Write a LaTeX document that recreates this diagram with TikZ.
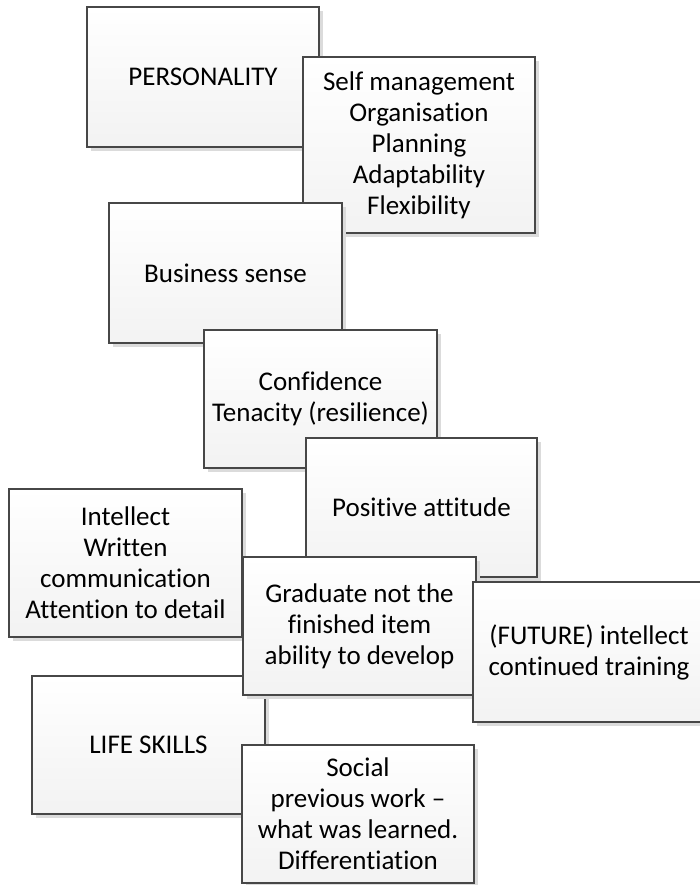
\documentclass[tikz,border=0pt]{standalone}
\usepackage{fontspec}
\setmainfont[Ligatures=NoCommon]{Carlito}
\usetikzlibrary{shadows}
\tikzset{
  boxnode/.style={rectangle, draw=black!72, line width=1.1pt,
    top color=white, bottom color=black!5,
    align=center, inner sep=1pt,
    font=\fontsize{27}{31}\selectfont,
    general shadow={fill=black!14, shadow xshift=4pt, shadow yshift=-4pt}},
}
\newcommand{\bx}[6]{%
  \node[boxnode, minimum width={#4-#2}, minimum height={#5-#3}]
    (#1) at ({(#2+#4)/2},{(#3+#5)/2}) {#6};}
\begin{document}
\begin{tikzpicture}[x=1pt,y=-1pt]
\clip (0,0) rectangle (700,885);
\fill[white] (0,0) rectangle (700,885);
\bx{pers}{87}{7}{319}{147}{PERSONALITY}
\bx{self}{303}{57}{535}{233}{Self management\\Organisation\\Planning\\Adaptability\\Flexibility}
\bx{bus}{109}{203}{342}{343}{Business sense}
\bx{conf}{204}{330}{437}{468}{Confidence\\Tenacity (resilience)}
\bx{pos}{306}{438}{537}{577}{Positive attitude}
\bx{intel}{9}{489}{242}{637}{Intellect\\Written\\communication\\Attention to detail}
\bx{life}{32}{676}{265}{814}{LIFE SKILLS}
\bx{grad}{243}{557}{476}{695}{Graduate not the\\finished item\\ability to develop}
\bx{fut}{473}{582}{705}{722}{(FUTURE) intellect\\continued training}
\bx{soc}{242}{745}{474}{883}{Social\\previous work --\\what was learned.\\Differentiation}
\end{tikzpicture}
\end{document}
